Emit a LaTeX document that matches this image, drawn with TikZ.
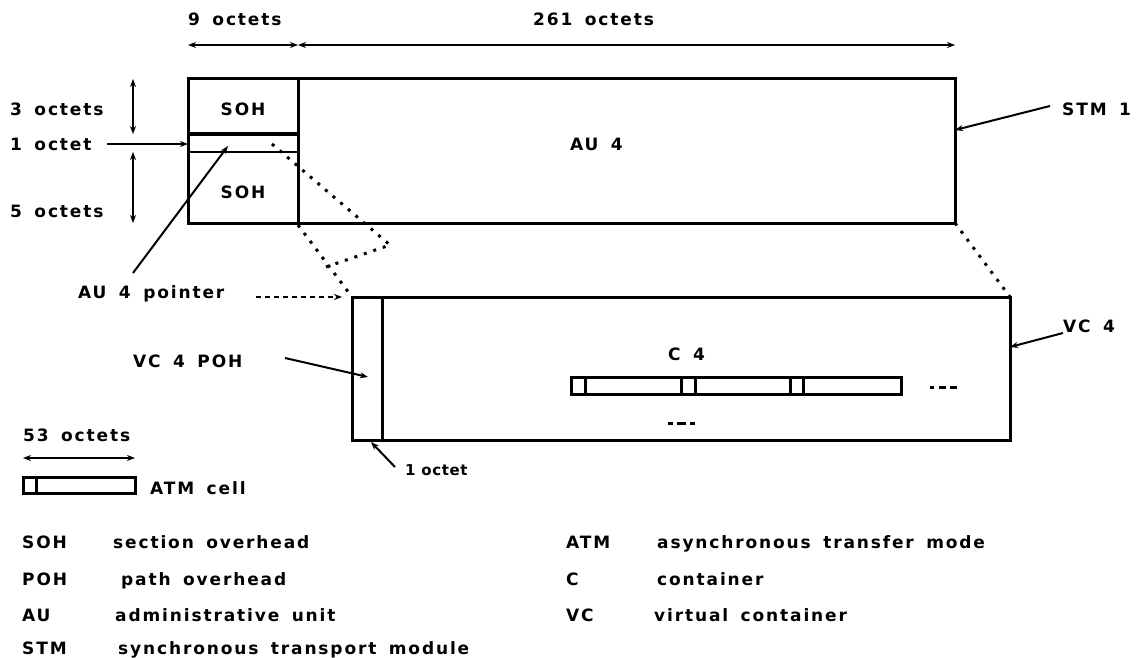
\documentclass[tikz,border=0pt]{standalone}
\usepackage{fontspec}
\newfontfamily\pix{DejaVu Sans}[LetterSpace=11,WordSpace=1.6]
\newfontfamily\pixs{DejaVu Sans}[LetterSpace=4]
\usetikzlibrary{arrows.meta}
\begin{document}
\begin{tikzpicture}[x=1pt,y=-1pt,
  box/.style={draw,line width=3pt,inner sep=0pt,outer sep=0pt},
  lbl/.style={inner sep=0pt,anchor=base west,font=\pix\bfseries\fontsize{17}{20}\selectfont},
  clbl/.style={inner sep=0pt,anchor=base,font=\pix\bfseries\fontsize{17}{20}\selectfont},
  leg/.style={inner sep=0pt,anchor=base west,font=\pix\bfseries\fontsize{17}{20}\selectfont},
  arr/.style={line width=2pt,-{Stealth[length=8pt,width=6pt]}},
  dim/.style={line width=2pt,{Stealth[length=8pt,width=6pt]}-{Stealth[length=8pt,width=6pt]}},
  dotline/.style={line width=3pt,dash pattern=on 3pt off 7pt},
  dashline/.style={line width=2.5pt,dash pattern=on 5pt off 4pt},
  sep/.style={line width=3pt}
]
\useasboundingbox (0,0) rectangle (1141,658);

% ---------- STM-1 frame ----------
\node[box,minimum width=767pt,minimum height=144pt] (stm) at (571.5,151) {};
\draw[sep] (298,79) -- (298,223);
\draw[line width=4pt] (188,134) -- (298,134);
\draw[line width=2.5pt] (188,152) -- (298,152);
\node[clbl] (soh1) at (243,116) {SOH};
\node[clbl] (soh2) at (243,198) {SOH};
\node[lbl] (au4) at (570,151) {AU 4};

% top dimensions
\coordinate (t0) at (188,45);
\coordinate (t1) at (298,45);
\coordinate (t2) at (955,45);
\draw[dim] (t0) -- (t1);
\draw[dim] (t1) -- (t2);
\node[lbl] (n9) at (188,26) {9 octets};
\node[lbl] (n261) at (533,26) {261 octets};

% left dimensions
\coordinate (l0) at (133,79);
\coordinate (l1) at (133,134);
\coordinate (l2) at (133,152);
\coordinate (l3) at (133,223);
\draw[dim] (l0) -- (l1);
\draw[dim] (l2) -- (l3);
\node[lbl] (n3) at (10,116) {3 octets};
\node[lbl] (n1) at (10,151) {1 octet};
\node[lbl] (n5) at (10,217) {5 octets};
\coordinate (p1s) at (107,144);
\coordinate (p1e) at (188,144);
\draw[arr] (p1s) -- (p1e);

% STM 1 label
\node[lbl] (stmlbl) at (1062,116) {STM 1};
\coordinate (stms) at (1050,106);
\coordinate (stme) at (955,130);
\draw[arr] (stms) -- (stme);

% AU 4 pointer
\node[lbl] (ptr) at (78,298) {AU 4 pointer};
\coordinate (ptrs) at (133,273);
\coordinate (ptre) at (228,146);
\draw[arr] (ptrs) -- (ptre);
\coordinate (ptrd1) at (256,297);
\coordinate (ptrd2) at (342,297);
\draw[dashline,-{Stealth[length=8pt,width=6pt]}] (ptrd1) -- (ptrd2);

% ---------- VC-4 ----------
\node[box,minimum width=658pt,minimum height=143pt] (vc4) at (681,368.5) {};
\draw[sep] (382,297) -- (382,440);
\node[lbl] (c4) at (668,360) {C 4};
\node[lbl] (vc4lbl) at (1063,332) {VC 4};
\coordinate (vcs) at (1063,333);
\coordinate (vce) at (1010,347);
\draw[arr] (vcs) -- (vce);
\node[lbl] (pohlbl) at (133,367) {VC 4 POH};
\coordinate (pohs) at (285,358);
\coordinate (pohe) at (368,377);
\draw[arr] (pohs) -- (pohe);
\node[inner sep=0pt,anchor=base west,font=\pixs\bfseries\fontsize{15}{18}\selectfont] (oct1) at (405,475) {1 octet};
\coordinate (o1s) at (395,467);
\coordinate (o1e) at (371,442);
\draw[arr] (o1s) -- (o1e);

% ATM cells in C-4
\node[box,minimum width=330pt,minimum height=17pt] (cells) at (736,385.5) {};
\foreach \xx in {585,681,695,790,803} \draw[sep] (\xx,377) -- (\xx,394);
\draw[line width=3pt,dash pattern=on 5pt off 4pt on 9pt off 4pt on 5pt off 20pt] (668,423) -- (708,423);
\draw[line width=3pt,dash pattern=on 4pt off 5pt on 7pt off 4pt on 7pt off 20pt] (930,387) -- (957,387);

% dotted mapping lines
\coordinate (m1) at (272,144);
\coordinate (m2) at (390,245);
\coordinate (m3) at (326,267);
\draw[dotline] (m1) -- (m2) -- (m3);
\draw[dotline] (298,225) -- (vc4.north west);
\draw[dotline] (stm.south east) -- (vc4.north east);

% ---------- ATM cell key ----------
\node[lbl] (n53) at (23,441) {53 octets};
\coordinate (k0) at (23,458);
\coordinate (k1) at (135,458);
\draw[dim] (k0) -- (k1);
\node[box,minimum width=112pt,minimum height=16pt] (cellkey) at (79,485) {};
\draw[sep] (36,477) -- (36,493);
\node[lbl] (atmcell) at (150,494) {ATM cell};

% ---------- legend ----------
\node[leg] (a1) at (22,548) {SOH};
\node[leg] (b1) at (113,548) {section overhead};
\node[leg] (a2) at (22,585) {POH};
\node[leg] (b2) at (121,585) {path overhead};
\node[leg] (a3) at (22,621) {AU};
\node[leg] (b3) at (115,621) {administrative unit};
\node[leg] (a4) at (22,654) {STM};
\node[leg] (b4) at (118,654) {synchronous transport module};
\node[leg] (a5) at (566,548) {ATM};
\node[leg] (b5) at (657,548) {asynchronous transfer mode};
\node[leg] (a6) at (566,585) {C};
\node[leg] (b6) at (657,585) {container};
\node[leg] (a7) at (566,621) {VC};
\node[leg] (b7) at (654,621) {virtual container};
\end{tikzpicture}
\end{document}
